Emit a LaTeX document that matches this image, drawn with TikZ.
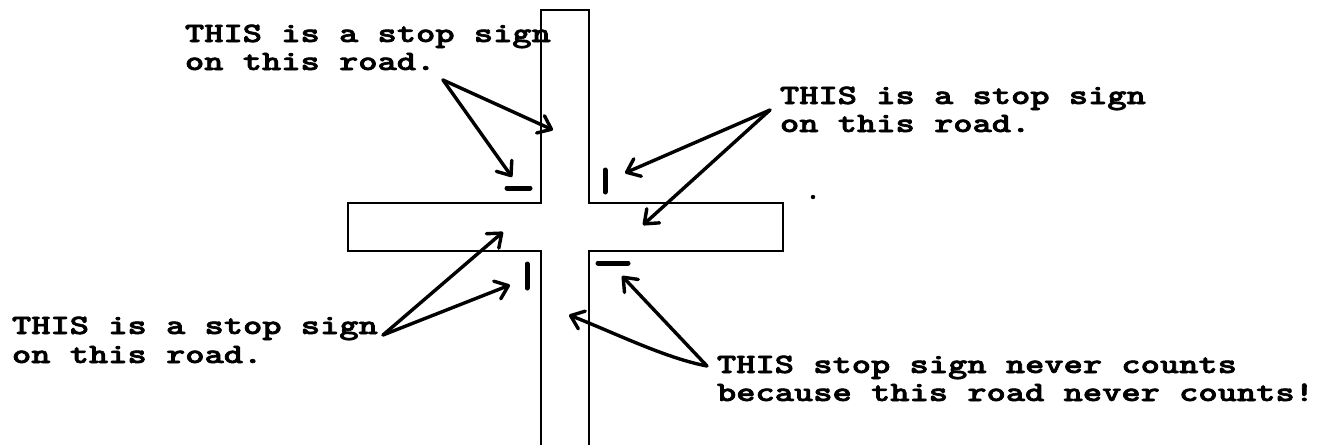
\documentclass[tikz,border=0pt]{standalone}
\usepackage{graphicx}
\usetikzlibrary{arrows.meta}
% typewritten caption text: mono stretched to a pica pitch, inked a little heavier
% by stroking the glyph outlines as well as filling them
\newcommand{\typed}[1]{\scalebox{1.31}[1]{\fontsize{28}{30}\selectfont\ttfamily\bfseries
  \special{pdf:literal direct 1 j 0.6 w 2 Tr}#1\special{pdf:literal direct 0 Tr}}}
\begin{document}
\begin{tikzpicture}[x=1pt,y=-1pt,
  road/.style={line width=2.3pt, line join=miter},
  pointer/.style={line width=3.4pt, line cap=round, line join=round,
    -{Straight Barb[length=12pt,width=19pt,line cap=round,line join=round]}},
  signmark/.style={line width=5pt, line cap=round},
  note/.style={anchor=base west, inner sep=0pt, outer sep=0pt}]
\useasboundingbox (0,0) rectangle (1325,445);

% the crossing roads (the lower arm runs off the page)
\draw[road] (541,445) -- (541,251) -- (348,251) -- (348,203) -- (541,203)
  -- (541,10) -- (589,10) -- (589,203) -- (783,203) -- (783,251)
  -- (589,251) -- (589,445);

% stop signs at the four corners
\draw[signmark] (507,188) -- (530,188);
\draw[signmark] (605,170) -- (605,192);
\draw[signmark] (527,264) -- (527,288);
\draw[signmark] (598,263) -- (628,263);

% stray dot
\fill (813,197) circle (2.2pt);

% captions
\node[note] (tl1) at (185,42)  {\typed{THIS is a stop sign}};
\node[note] (tl2) at (185,70)  {\typed{on this road.}};
\node[note] (tr1) at (780,104) {\typed{THIS is a stop sign}};
\node[note] (tr2) at (780,132) {\typed{on this road.}};
\node[note] (bl1) at (12,334)  {\typed{THIS is a stop sign}};
\node[note] (bl2) at (12,363)  {\typed{on this road.}};
\node[note] (br1) at (717,373) {\typed{THIS stop sign never counts}};
\node[note] (br2) at (717,401) {\typed{because this road never counts!}};

% arrow origins and targets
\coordinate (tlA) at (443,80);
\coordinate (tlT1) at (553,130);
\coordinate (tlT2) at (512,177);
\coordinate (trA) at (770,110);
\coordinate (trT1) at (625,173);
\coordinate (trT2) at (643,225);
\coordinate (blA) at (383,335);
\coordinate (blT1) at (503,232);
\coordinate (blT2) at (510,285);
\coordinate (brA) at (707,366);
\coordinate (brT1) at (569,315);
\coordinate (brT2) at (622,276);

\draw[pointer] (tlA) -- (tlT1);
\draw[pointer] (tlA) -- (tlT2);
\draw[pointer] (trA) -- (trT1);
\draw[pointer] (trA) -- (trT2);
\draw[pointer] (blA) -- (blT1);
\draw[pointer] (blA) -- (blT2);
\draw[pointer] (brA) .. controls (665,358) and (615,333) .. (brT1);
\draw[pointer] (brA) -- (brT2);
\end{tikzpicture}
\end{document}
